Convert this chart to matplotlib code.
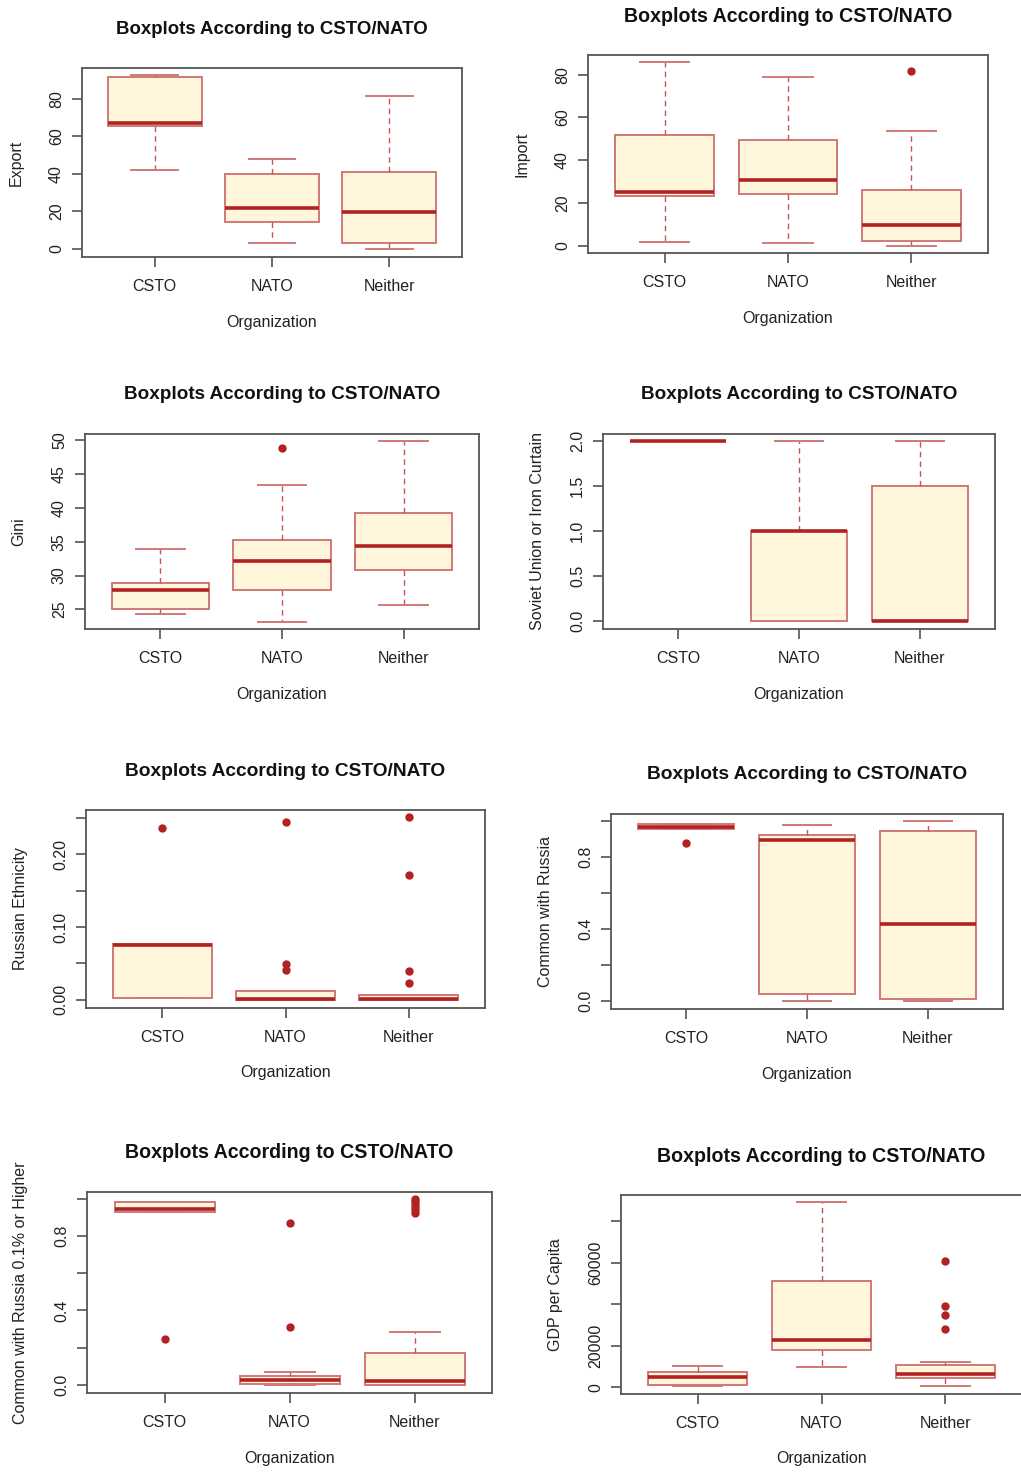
import numpy as np
import matplotlib
matplotlib.use("Agg")
import matplotlib.pyplot as plt

plt.rcParams['font.family'] = ['Liberation Sans', 'DejaVu Sans']

groups = ['CSTO', 'NATO', 'Neither']

# five-number summaries per group: (whislo, q1, med, q3, whishi), plus outliers
export_stats = [(42, 65.6, 67.2, 91.9, 93), (3.4, 14.6, 21.7, 40.1, 47.9), (0, 3.2, 19.8, 41, 81.8)]
export_out = [[], [], []]
import_stats = [(1.6, 23, 25.2, 51.9, 85.9), (1.3, 24.2, 30.6, 49.4, 78.8), (0, 2.2, 9.5, 25.8, 53.6)]
import_out = [[], [], [81.9]]
gini_stats = [(24.3, 25.1, 27.8, 28.9, 34.0), (23.2, 27.8, 32.1, 35.2, 43.4), (25.6, 30.8, 34.4, 39.2, 49.95)]
gini_out = [[], [48.9], []]
soviet_stats = [(2, 2, 2, 2, 2), (0, 0, 1, 1, 2), (0, 0, 0, 1.5, 2)]
soviet_out = [[], [], []]
ethn_stats = [(0.003, 0.003, 0.075, 0.076, 0.076), (0, 0, 0.001, 0.0124, 0.0124), (0, 0, 0.0005, 0.0064, 0.0064)]
ethn_out = [[0.236], [0.244, 0.0495, 0.041], [0.252, 0.172, 0.0395, 0.0225]]
common_stats = [(0.957, 0.957, 0.965, 0.981, 0.985), (0, 0.041, 0.894, 0.92, 0.98), (0, 0.013, 0.43, 0.946, 1.0)]
common_out = [[0.879], [], []]
common01_stats = [(0.928, 0.928, 0.946, 0.979, 0.982), (0, 0.004, 0.025, 0.05, 0.07), (0, 0, 0.021, 0.174, 0.284)]
common01_out = [[0.249], [0.869, 0.309], [1.0, 0.985, 0.97, 0.955, 0.94, 0.925]]
gdp_stats = [(800, 1280, 4960, 7360, 10240), (9600, 17920, 22560, 51200, 89120), (480, 4320, 6560, 10560, 12320)]
gdp_out = [[], [], [60960, 39360, 34880, 27840]]

panels = [
    # ylabel, stats, outliers, ylim, ticks, labelled ticks, label format, axes px (l, t, r, b), title size
    ('Export', export_stats, export_out, (-4.3, 96.5), np.arange(0, 81, 20), None, '{:.0f}', (82, 68, 462, 257), 13.4),
    ('Import', import_stats, import_out, (-3.46, 89.2), np.arange(0, 81, 20), None, '{:.0f}', (588, 55, 988, 253), 14.1),
    ('Gini', gini_stats, gini_out, (22.1, 50.93), np.arange(25, 51, 5), None, '{:.0f}', (85, 434, 479, 629), 13.6),
    ('Soviet Union or Iron Curtain', soviet_stats, soviet_out, (-0.085, 2.078), np.arange(0, 2.01, 0.5), None, '{:.1f}', (603, 434, 995, 629), 13.6),
    ('Russian Ethnicity', ethn_stats, ethn_out, (-0.0114, 0.261), np.arange(0, 0.251, 0.05), [0, 2, 4], '{:.2f}', (86, 810, 485, 1008), 13.8),
    ('Common with Russia', common_stats, common_out, (-0.0445, 1.039), np.arange(0, 1.01, 0.2), [0, 2, 4], '{:.1f}', (611, 814, 1003, 1009), 13.8),
    ('Common with Russia 0.1% or Higher', common01_stats, common01_out, (-0.043, 1.035), np.arange(0, 1.01, 0.2), [0, 2, 4], '{:.1f}', (87, 1192, 492, 1393), 14.1),
    ('GDP per Capita', gdp_stats, gdp_out, (-3221, 92596), np.arange(0, 80001, 20000), [0, 1, 3], '{:.0f}', (621, 1195, 1022, 1394), 14.1),
]

W, H = 1021, 1477
fig = plt.figure(figsize=(W / 100, H / 100), dpi=100)

box_edge = '#d07878'
whisk_col = '#c85555'
med_col = '#b22222'
face = '#fff6dc'
frame = '#555555'

for ylab, stats, outs, ylim, ticks, lab_idx, fmt, (l, t, r, b), tsize in panels:
    ax = fig.add_axes([l / W, 1 - b / H, (r - l) / W, (b - t) / H])
    bxp_stats = []
    for g, s, o in zip(groups, stats, outs):
        bxp_stats.append(dict(label=g, whislo=s[0], q1=s[1], med=s[2], q3=s[3], whishi=s[4], fliers=o))
    ax.bxp(bxp_stats, positions=[1, 2, 3], widths=0.8, capwidths=0.4, patch_artist=True,
           boxprops=dict(facecolor=face, edgecolor=box_edge, linewidth=1.4),
           whiskerprops=dict(color=whisk_col, linewidth=1.0, linestyle=(0, (4, 3))),
           capprops=dict(color=box_edge, linewidth=1.4),
           medianprops=dict(color=med_col, linewidth=2.6, solid_capstyle='butt'),
           flierprops=dict(marker='o', markerfacecolor=med_col, markeredgecolor=med_col, markersize=5))
    ax.set_xlim(0.38, 3.62)
    ax.set_ylim(*ylim)
    ax.set_yticks(ticks)
    labels = [fmt.format(v) if (lab_idx is None or i in lab_idx) else '' for i, v in enumerate(ticks)]
    ax.set_yticklabels(labels, rotation=90, va='center')
    ax.set_xticks([1, 2, 3])
    ax.set_xticklabels(groups)
    for sp in ax.spines.values():
        sp.set_color(frame)
        sp.set_linewidth(1.3)
    ax.tick_params(axis='both', length=7, width=1.1, color='#444444', labelsize=11.5, labelcolor='#222222')
    ax.tick_params(axis='x', pad=9)
    ax.tick_params(axis='y', pad=6)
    cx = (l + r) / 2
    fig.text(cx / W, 1 - (t - 39) / H, 'Boxplots According to CSTO/NATO', ha='center', va='center',
             fontsize=tsize, fontweight='bold', color='#111111')
    fig.text(cx / W, 1 - (b + 65) / H, 'Organization', ha='center', va='center', fontsize=11.5, color='#222222')
    fig.text((l - 66) / W, 1 - ((t + b) / 2) / H, ylab, ha='center', va='center', rotation=90,
             fontsize=11.5, color='#222222')

fig.savefig('out.png', dpi=100)
